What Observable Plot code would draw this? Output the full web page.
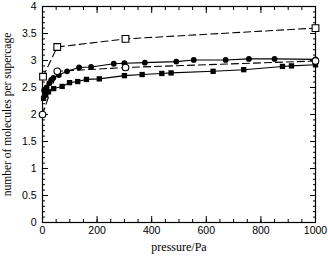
<!DOCTYPE html>
<html>
<head>
<meta charset="utf-8">
<script src="https://cdn.jsdelivr.net/npm/d3@7"></script>
<script src="https://cdn.jsdelivr.net/npm/@observablehq/plot@0.6"></script>
<style>
  html, body { margin: 0; padding: 0; background: #fff; }
  #chart { width: 328px; height: 257px; }
</style>
</head>
<body>
<div id="chart"></div>
<script>
// Filled circles (solid line)
const fcP = [6, 15, 25, 32, 40, 60, 90, 134, 178, 261, 300, 375, 490, 554, 671, 756, 850, 1000];
const fcV = [2.45, 2.50, 2.58, 2.64, 2.68, 2.73, 2.80, 2.87, 2.88, 2.94, 2.95, 2.96, 2.98, 3.01, 3.01, 3.03, 3.03, 3.02];
// Filled squares (solid line)
const fsP = [4, 12, 22, 41, 72, 99, 129, 161, 208, 300, 365, 437, 471, 625, 737, 879, 912, 1000];
const fsV = [2.30, 2.36, 2.42, 2.48, 2.52, 2.59, 2.61, 2.65, 2.66, 2.72, 2.74, 2.76, 2.77, 2.80, 2.83, 2.89, 2.90, 2.92];
// Open circles (dashed line)
const ocP = [0, 54, 304, 1000];
const ocV = [2.00, 2.80, 2.87, 2.99];
// Open squares (dashed line)
const osP = [2, 54, 304, 1000];
const osV = [2.70, 3.25, 3.40, 3.60];

const xMajor = [0, 200, 400, 600, 800, 1000];
const xMinor = d3.range(0, 1001, 50);
const yMajor = [0, 0.5, 1, 1.5, 2, 2.5, 3, 3.5, 4];
const yMinor = d3.range(0, 4.001, 0.1);
const xTitle = "pressure/Pa";
const yTitle = "number of molecules per supercage";

const zip = (P, V) => P.map((p, i) => ({p, v: V[i]}));
const fc = zip(fcP, fcV), fs = zip(fsP, fsV), oc = zip(ocP, ocV), os = zip(osP, osV);

const tickFont = {fontFamily: "'Liberation Sans', Arial, sans-serif", fontSize: 10.5};
const blank = () => "";
const serif = "'Liberation Serif', 'Times New Roman', serif";

const chart = Plot.plot({
  width: 328,
  height: 257,
  marginLeft: 42,
  marginRight: 13,
  marginTop: 6,
  marginBottom: 35,
  style: {fontFamily: "'Liberation Sans', Arial, sans-serif", fontSize: "10.5px", color: "black", background: "white"},
  x: {domain: [0, 1000]},
  y: {domain: [0, 4]},
  marks: [
    // minor ticks
    Plot.axisX({anchor: "bottom", ticks: xMinor, tickSize: -3, tickFormat: blank, label: null}),
    Plot.axisX({anchor: "top", ticks: xMinor, tickSize: -3, tickFormat: blank, label: null}),
    Plot.axisY({anchor: "left", ticks: yMinor, tickSize: -3, tickFormat: blank, label: null}),
    Plot.axisY({anchor: "right", ticks: yMinor, tickSize: -3, tickFormat: blank, label: null}),
    // major ticks
    Plot.axisX({anchor: "bottom", ticks: xMajor, tickSize: -6, tickPadding: 10, tickFormat: d => String(d), label: null, ...tickFont}),
    Plot.axisX({anchor: "top", ticks: xMajor, tickSize: -6, tickFormat: blank, label: null}),
    Plot.axisY({anchor: "left", ticks: yMajor, tickSize: -6, tickPadding: 12, tickFormat: d => String(d), label: null, ...tickFont}),
    Plot.axisY({anchor: "right", ticks: yMajor, tickSize: -6, tickFormat: blank, label: null}),
    Plot.frame({stroke: "black", strokeWidth: 1.2}),
    // lines
    Plot.line(os, {x: "p", y: "v", stroke: "black", strokeWidth: 1.1, strokeDasharray: "7,4"}),
    Plot.line(oc, {x: "p", y: "v", stroke: "black", strokeWidth: 1.1, strokeDasharray: "7,4"}),
    Plot.line(fc, {x: "p", y: "v", stroke: "black", strokeWidth: 1.1}),
    Plot.line(fs, {x: "p", y: "v", stroke: "black", strokeWidth: 1.1}),
    // markers
    Plot.dot(fc, {x: "p", y: "v", r: 2.9, fill: "black"}),
    Plot.dot(fs, {x: "p", y: "v", r: 3.0, symbol: "square", fill: "black"}),
    Plot.dot(oc, {x: "p", y: "v", r: 3.3, fill: "white", stroke: "black", strokeWidth: 1.1}),
    Plot.dot(os, {x: "p", y: "v", r: 3.8, symbol: "square", fill: "white", stroke: "black", strokeWidth: 1.1}),
    // titles
    Plot.text([xTitle], {frameAnchor: "bottom", dy: 28, lineAnchor: "bottom", textAnchor: "middle", text: d => d, fontFamily: serif, fontSize: 12, fill: "black"}),
    Plot.text([yTitle], {frameAnchor: "left", dx: -35, rotate: -90, textAnchor: "middle", lineAnchor: "middle", text: d => d, fontFamily: serif, fontSize: 11.5, fill: "black"})
  ]
});
document.getElementById("chart").appendChild(chart);
</script>
</body>
</html>
